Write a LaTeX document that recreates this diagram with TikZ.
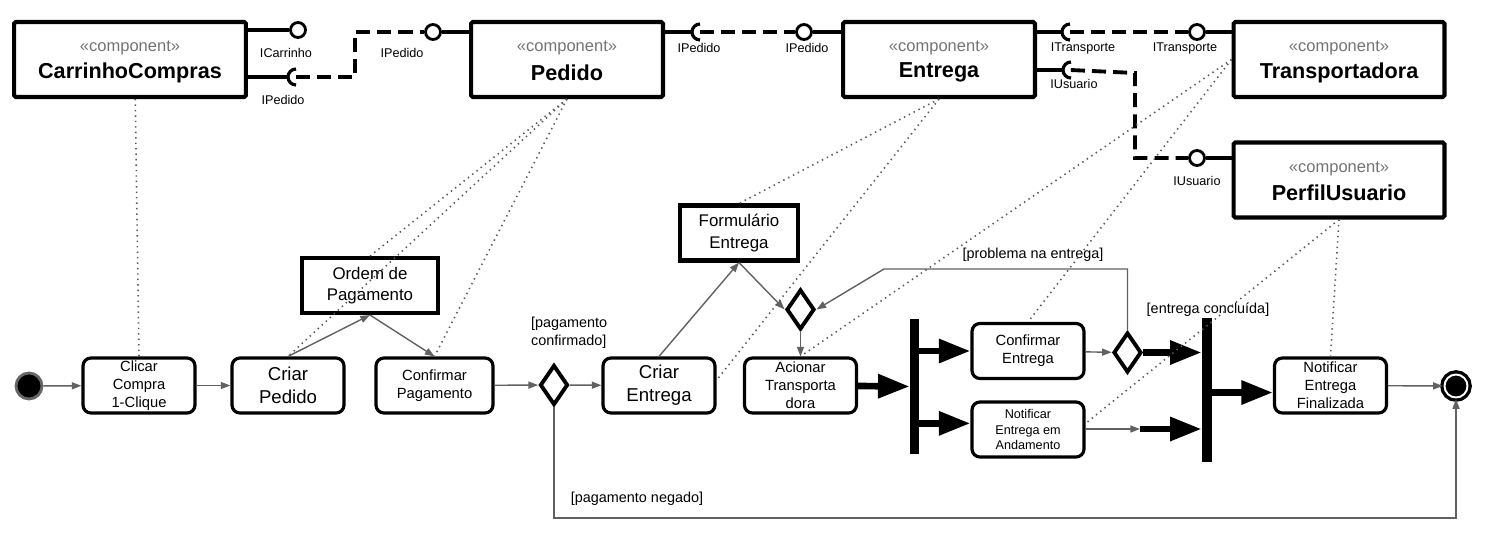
\documentclass[tikz,border=0pt]{standalone}
\usepackage{fontspec}
\setmainfont{Liberation Sans}
\usetikzlibrary{arrows.meta,shapes.geometric}

\tikzset{
  comp/.style={draw, line width=2.3pt, minimum height=1.5cm, rounded corners=1pt},
  ster/.style={text=black!55, font=\fontsize{9.4}{11}\selectfont, inner sep=0pt},
  cname/.style={font=\fontsize{12.3}{14}\selectfont\bfseries, inner sep=0pt},
  lolli/.style={circle, draw, line width=1.6pt, fill=white, minimum size=0.3cm, inner sep=0pt},
  iface/.style={line width=2.2pt},
  socket/.style={line width=1.8pt},
  wire/.style={line width=2.2pt, dash pattern=on 8pt off 4pt},
  ilabel/.style={font=\fontsize{7.2}{8.5}\selectfont, inner sep=0pt},
  act/.style={draw, rounded corners=4.5pt, line width=1.8pt, minimum width=2.24cm, minimum height=1.1cm,
    align=center, inner sep=1pt, font=\fontsize{8.4}{10.2}\selectfont},
  big/.style={font=\fontsize{10.6}{13}\selectfont},
  obj/.style={draw, line width=2.3pt, minimum width=2.36cm, minimum height=1.1cm, align=center,
    inner sep=1pt, font=\fontsize{9.6}{12}\selectfont},
  dec/.style={diamond, draw, line width=2.2pt, minimum width=0.56cm, minimum height=0.8cm, inner sep=0pt},
  bar/.style={fill=black, minimum width=0.18cm, minimum height=2.7cm, inner sep=0pt},
  flow/.style={draw=black!62, line width=0.8pt, -{Triangle[length=5.5pt,width=4pt]}},
  fat/.style={line width=3.8pt, -{Triangle[length=18pt,width=13pt]}},
  trace/.style={draw=black!65, line width=0.9pt, dash pattern=on 0.8pt off 2.3pt},
  guard/.style={font=\fontsize{8.2}{10}\selectfont, inner sep=1pt},
}

\begin{document}
\begin{tikzpicture}[x=0.02cm, y=-0.02cm]

    \useasboundingbox (0,0) rectangle (1502,552);

    % Components
    \node[comp, minimum width=4.64cm] (carrinho) at (130,59.5) {};
    \node[ster] (carrinhoS) at ([yshift=6.5pt]carrinho.center) {«component»};
    \node[cname] (carrinhoN) at ([yshift=-7.5pt]carrinho.center) {CarrinhoCompras};

    \node[comp, minimum width=3.84cm] (pedido) at (567,59.5) {};
    \node[ster] (pedidoS) at ([yshift=6.5pt]pedido.center) {«component»};
    \node[cname] (pedidoN) at ([yshift=-7.5pt]pedido.center) {Pedido};

    \node[comp, minimum width=3.84cm] (entrega) at (939,59.5) {};
    \node[ster] (entregaS) at ([yshift=6.5pt]entrega.center) {«component»};
    \node[cname] (entregaN) at ([yshift=-7.5pt]entrega.center) {Entrega};

    \node[comp, minimum width=4.22cm] (transp) at (1339,59.5) {};
    \node[ster] (transpS) at ([yshift=6.5pt]transp.center) {«component»};
    \node[cname] (transpN) at ([yshift=-7.5pt]transp.center) {Transportadora};

    \node[comp, minimum width=4.22cm] (perfil) at (1339,180) {};
    \node[ster] (perfilS) at ([yshift=6.5pt]perfil.center) {«component»};
    \node[cname] (perfilN) at ([yshift=-7.5pt]perfil.center) {PerfilUsuario};

    % Provided interfaces (lollipops) and required ones (sockets)
    \node[lolli] (lolCarr) at (298,30) {};
    \node[lolli] (lolPed) at (433,32) {};
    \node[lolli] (lolEnt) at (804,32) {};
    \node[lolli] (lolTransp) at (1197,32) {};
    \node[lolli] (lolPerfil) at (1197,158) {};
    \coordinate (sockCarr) at (288,77);
    \coordinate (sockPed) at (692,32);
    \coordinate (sockTr) at (1062,32);
    \coordinate (sockUs) at (1063,70);
    \coordinate (dobraA) at (355,32);
    \coordinate (dobraB) at (1135,73);

    \draw[iface] (carrinho.east |- lolCarr) -- (lolCarr.west);
    \draw[iface] (carrinho.east |- sockCarr) -- (sockCarr);
    \draw[iface] (lolPed.east) -- (pedido.west |- lolPed);
    \draw[iface] (pedido.east |- sockPed) -- (sockPed);
    \draw[iface] (lolEnt.east) -- (entrega.west |- lolEnt);
    \draw[iface] (entrega.east |- sockTr) -- (sockTr);
    \draw[iface] (entrega.east |- sockUs) -- (sockUs);
    \draw[iface] (lolTransp.east) -- (transp.west |- lolTransp);
    \draw[iface] (lolPerfil.east) -- (perfil.west |- lolPerfil);

    \foreach \s in {sockCarr,sockPed,sockTr,sockUs}
      \draw[socket] (\s) arc[start angle=180, end angle=90, radius=8]
                    (\s) arc[start angle=180, end angle=270, radius=8];

    % Dashed assembly connectors
    \draw[wire] ([xshift=4.5pt]sockCarr) -| (dobraA) -- (lolPed.west);
    \draw[wire] ([xshift=4.5pt]sockPed) -- (lolEnt.west);
    \draw[wire] ([xshift=4.5pt]sockTr) -- (lolTransp.west);
    \draw[wire] ([xshift=4.5pt]sockUs) -- (dobraB) |- (lolPerfil.west);

    % Interface labels
    \node[ilabel] (labICarr) at (286,53) {ICarrinho};
    \node[ilabel] (labIPedA) at (283,100) {IPedido};
    \node[ilabel] (labIPedB) at (402,53) {IPedido};
    \node[ilabel] (labIPedC) at (699,48) {IPedido};
    \node[ilabel] (labIPedD) at (807,48) {IPedido};
    \node[ilabel] (labITrA) at (1083,48) {ITransporte};
    \node[ilabel] (labITrB) at (1185,48) {ITransporte};
    \node[ilabel] (labIUsA) at (1074,84) {IUsuario};
    \node[ilabel] (labIUsB) at (1197,181) {IUsuario};

    % Activity nodes
    \node[circle, fill=black, draw=black!60, line width=1.6pt, minimum size=0.52cm] (inicio) at (29,386) {};
    \node[act] (clicar) at (139,385.5) {Clicar\\Compra\\1-Clique};
    \node[act, big] (criarPedido) at (288,385.5) {Criar\\Pedido};
    \node[act, minimum width=2.34cm] (confPag) at (434.5,385.5) {Confirmar\\Pagamento};
    \node[obj, minimum width=2.72cm] (ordem) at (370,285.5) {Ordem de\\Pagamento};
    \node[dec] (dec1) at (554,385) {};
    \node[act, big] (criarEntrega) at (659,385.5) {Criar\\Entrega};
    \node[obj] (formEnt) at (739,233) {Formulário\\Entrega};
    \node[dec] (dec2) at (800.5,309.5) {};
    \node[act] (acionar) at (800.5,385.5) {Acionar\\Transporta\\dora};
    \node[bar] (fork1) at (914.5,386.5) {};
    \node[act] (confEnt) at (1028,351) {Confirmar\\Entrega};
    \node[act, font=\fontsize{7.2}{9}\selectfont] (notifAnd) at (1028,429.5) {Notificar\\Entrega em\\Andamento};
    \node[dec] (dec3) at (1127.5,352.5) {};
    \node[bar, minimum width=0.2cm, minimum height=2.88cm] (join) at (1207,390) {};
    \node[act] (notifFin) at (1330.5,385.5) {Notificar\\Entrega\\Finalizada};
    \node[circle, fill=black, draw=black, double=white, double distance=1.1pt, line width=1.9pt,
      minimum size=0.46cm] (fim) at (1456,386) {};

    \coordinate (cantoProb) at (884,269);
    \coordinate (cantoNeg) at (554,518);
    \coordinate (pontoAnd) at (1140,429);
    \coordinate (andIn) at ([yshift=3.5pt]notifAnd.west);
    \coordinate (finIn) at ([yshift=-4pt]notifFin.west);

    % Guards
    \node[guard, align=left, anchor=west] (gConf) at (529,333) {[pagamento\\confirmado]};
    \node[guard] (gNeg) at (637,499) {[pagamento negado]};
    \node[guard] (gProb) at (1033,255) {[problema na entrega]};
    \node[guard] (gConc) at (1208,310) {[entrega concluída]};

    % Control flow
    \draw[flow] (inicio) -- (clicar);
    \draw[flow] (clicar) -- (criarPedido);
    \draw[flow] (criarPedido.north) -- (ordem.south);
    \draw[flow] (ordem.south) -- (confPag.north);
    \draw[flow] (confPag) -- (dec1);
    \draw[flow] (dec1) -- (criarEntrega);
    \draw[flow] (dec1.south) -- (cantoNeg) -| (fim.south);
    \draw[flow] (criarEntrega.north) -- (formEnt.south);
    \draw[flow] (formEnt.south) -- (dec2.west);
    \draw[flow] (dec2) -- (acionar);
    \draw[flow] (confEnt) -- (dec3);
    \draw[flow] (dec3.north) |- (cantoProb) -- (dec2.east);
    \draw[flow] (notifAnd.east |- pontoAnd) -- (pontoAnd);
    \draw[flow] (notifFin) -- (fim);

    % Fork and join
    \draw[fat] (acionar) -- (fork1);
    \draw[fat] (fork1.east |- confEnt) -- (confEnt.west);
    \draw[fat] (fork1.east |- andIn) -- (andIn);
    \draw[fat] (dec3) -- (join.west |- dec3);
    \draw[fat] (pontoAnd) -- (join.west |- pontoAnd);
    \draw[fat] (join.east |- finIn) -- (finIn);

    % Traces to the components
    \draw[trace] ([xshift=3pt]carrinho.south) -- (clicar.north);
    \draw[trace] (pedido.south) -- (criarPedido.north);
    \draw[trace] (pedido.south) -- (ordem.north);
    \draw[trace] (pedido.south) -- (confPag.north);
    \draw[trace] (entrega.south) -- (formEnt.north);
    \draw[trace] (entrega.south) -- ([yshift=3pt]criarEntrega.east);
    \draw[trace] (transp.west) -- (acionar.north);
    \draw[trace] (transp.west) -- (confEnt.north);
    \draw[trace] (perfil.south) -- (notifFin.north);
    \draw[trace] (perfil.south) -- ([yshift=3.5pt]notifAnd.east);

\end{tikzpicture}
\end{document}
